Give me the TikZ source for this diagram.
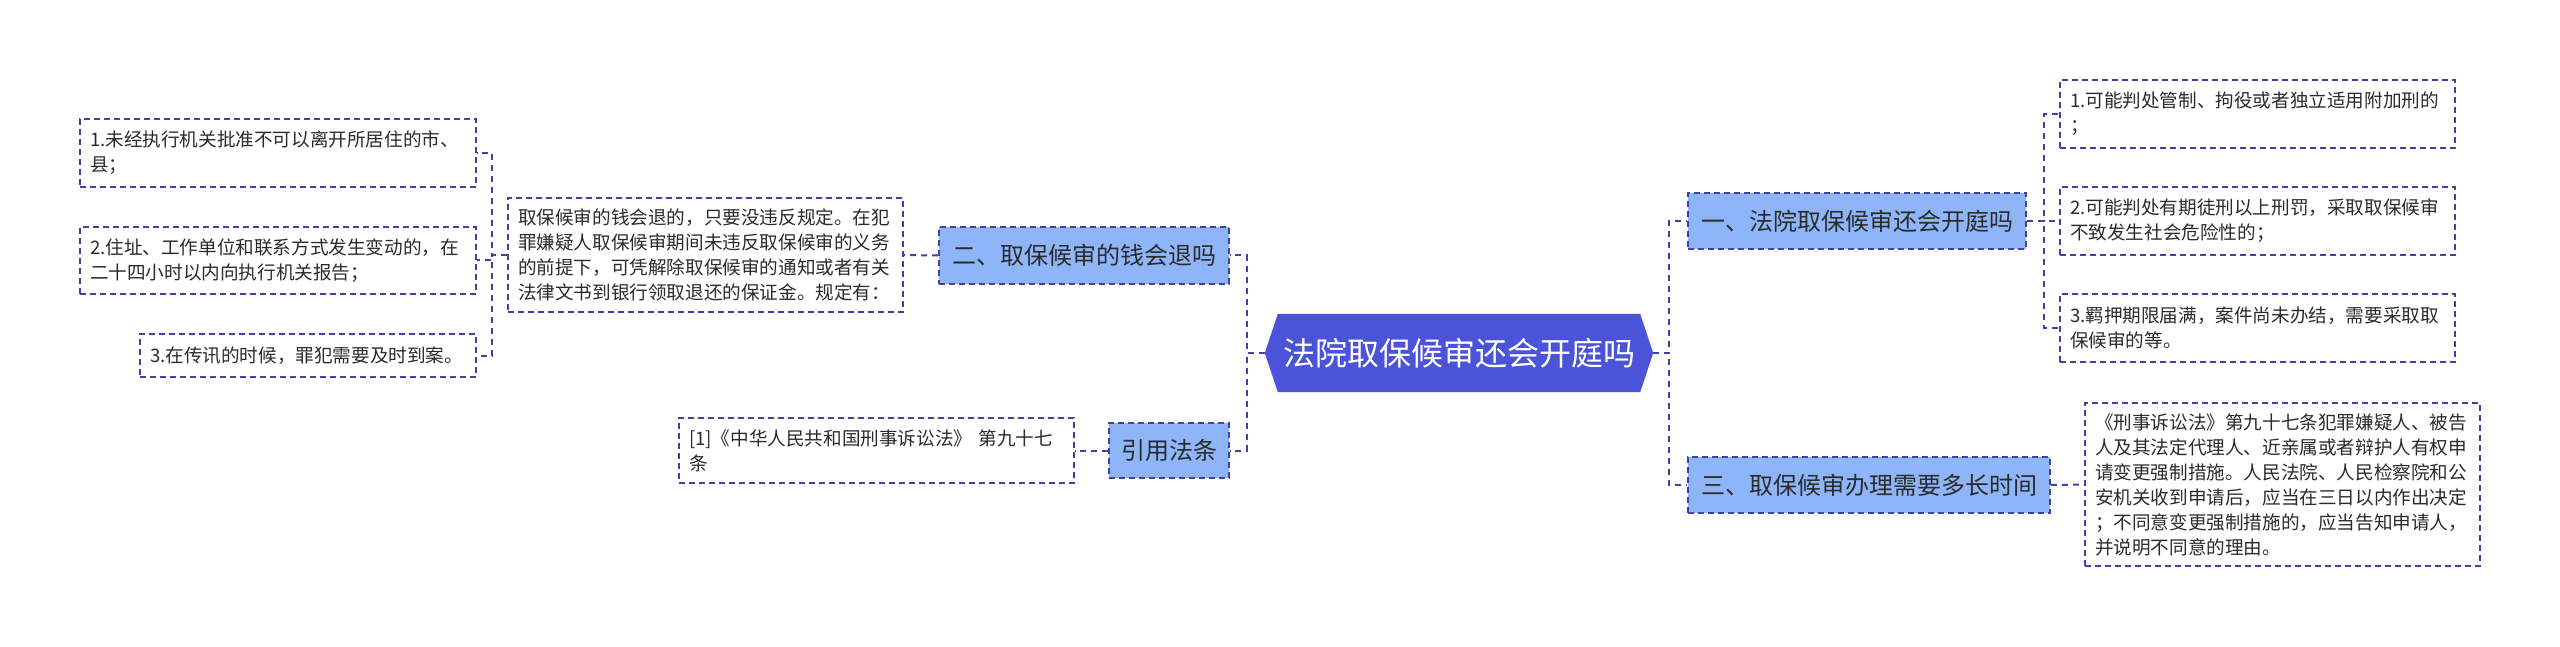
\documentclass[tikz,border=0pt]{standalone}
\usepackage{fontspec}
\newfontfamily\cjk{Noto Sans CJK SC}
\usetikzlibrary{backgrounds}
\definecolor{lineblue}{HTML}{4040A8}
\definecolor{hexblue}{HTML}{4B53D8}
\definecolor{lvlone}{HTML}{8DB5F8}
\definecolor{txt}{HTML}{2B2B2B}
\tikzset{
  x=1pt, y=-1pt,
  dsh/.style={dash pattern=on 6pt off 4pt, line width=1.8pt},
  conn/.style={draw=lineblue, dash pattern=on 6pt off 5pt, line width=2pt},
  leaf/.style={draw=lineblue, dsh, fill=white, font=\cjk\fontsize{18.6}{25}\selectfont, text=txt,
    align=left, inner xsep=10pt, inner ysep=0pt, anchor=center},
  branch/.style={draw=lineblue, dsh, fill=lvlone, font=\cjk\fontsize{24}{28}\selectfont, text=txt,
    align=center, inner sep=0pt, anchor=center},
  root/.style={font=\cjk\fontsize{32}{38}\selectfont, text=white, inner sep=0pt,
    minimum width=388pt, minimum height=78pt, anchor=center}
}
\begin{document}
\begin{tikzpicture}
\useasboundingbox (0,0) rectangle (2560,647);

% root
\node[root] (c) at (1459,353) {法院取保候审还会开庭吗};
\begin{scope}[on background layer]
\fill[hexblue] (c.west) -- ([xshift=13pt]c.north west) -- ([xshift=-13pt]c.north east)
  -- (c.east) -- ([xshift=-13pt]c.south east) -- ([xshift=13pt]c.south west) -- cycle;
\end{scope}

% left branches
\node[branch, minimum width=290pt, minimum height=57pt] (b2) at (1084,255.5) {二、取保候审的钱会退吗};
\node[branch, minimum width=120pt, minimum height=55pt] (cite) at (1169,450.5) {引用法条};

\node[leaf, text width=375pt, minimum height=114pt] (lt) at (705.5,255)
  {取保候审的钱会退的，只要没违反规定。在犯\\罪嫌疑人取保候审期间未违反取保候审的义务\\的前提下，可凭解除取保候审的通知或者有关\\法律文书到银行领取退还的保证金。规定有：};
\node[leaf, text width=376pt, minimum height=68pt] (l1) at (278,153)
  {1.未经执行机关批准不可以离开所居住的市、\\县；};
\node[leaf, text width=376pt, minimum height=67pt] (l2) at (278,260.5)
  {2.住址、工作单位和联系方式发生变动的，在\\二十四小时以内向执行机关报告；};
\node[leaf, text width=316pt, minimum height=43pt] (l3) at (308,355.5)
  {3.在传讯的时候，罪犯需要及时到案。};
\node[leaf, text width=375pt, minimum height=65pt] (ref) at (876.5,450.5)
  {[1]《中华人民共和国刑事诉讼法》 第九十七\\条};

% right branches
\node[branch, minimum width=338pt, minimum height=56pt] (b1) at (1857,221) {一、法院取保候审还会开庭吗};
\node[branch, minimum width=362pt, minimum height=56pt] (b3) at (1869,485) {三、取保候审办理需要多长时间};

\node[leaf, text width=375pt, minimum height=68pt] (r1) at (2257.5,114)
  {1.可能判处管制、拘役或者独立适用附加刑的\\；};
\node[leaf, text width=375pt, minimum height=68pt] (r2) at (2257.5,221)
  {2.可能判处有期徒刑以上刑罚，采取取保候审\\不致发生社会危险性的；};
\node[leaf, text width=375pt, minimum height=68pt] (r3) at (2257.5,328)
  {3.羁押期限届满，案件尚未办结，需要采取取\\保候审的等。};
\node[leaf, text width=375pt, minimum height=163pt] (rt) at (2282.5,484.5)
  {《刑事诉讼法》第九十七条犯罪嫌疑人、被告\\人及其法定代理人、近亲属或者辩护人有权申\\请变更强制措施。人民法院、人民检察院和公\\安机关收到申请后，应当在三日以内作出决定\\；不同意变更强制措施的，应当告知申请人，\\并说明不同意的理由。};

% connectors
\draw[conn] (c.west) -- ++(-18,0) |- (b2.east);
\draw[conn] (c.west) -- ++(-18,0) |- (cite.east);
\draw[conn] (b2.west) -- (lt.east);
\draw[conn] (cite.west) -- (ref.east);
\draw[conn] (lt.west) -- ++(-15,0) |- (l1.east);
\draw[conn] (lt.west) -- ++(-15,0) |- (l2.east);
\draw[conn] (lt.west) -- ++(-15,0) |- (l3.east);

\draw[conn] (c.east) -- ++(16,0) |- (b1.west);
\draw[conn] (c.east) -- ++(16,0) |- (b3.west);
\draw[conn] (b1.east) -- ++(17,0) |- (r1.west);
\draw[conn] (b1.east) -- ++(17,0) |- (r2.west);
\draw[conn] (b1.east) -- ++(17,0) |- (r3.west);
\draw[conn] (b3.east) -- (rt.west);
\end{tikzpicture}
\end{document}
